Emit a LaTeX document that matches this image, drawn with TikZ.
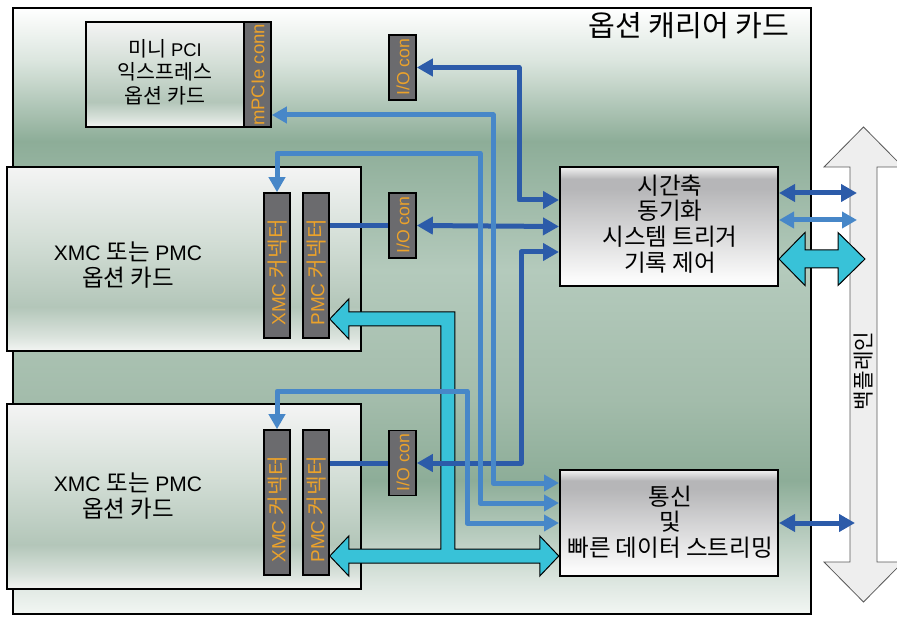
\documentclass[tikz,border=0pt]{standalone}
\usepackage{fontspec}
\setmainfont{Liberation Sans}
\newfontfamily\kr[Scale=1.12]{Noto Sans CJK KR}
\usetikzlibrary{arrows.meta,calc}
\definecolor{dkblue}{HTML}{2C5BA9}
\definecolor{mdblue}{HTML}{4787C8}
\definecolor{cyanbus}{HTML}{38C2D8}
\definecolor{conngrey}{HTML}{6B6B6E}
\definecolor{connorange}{HTML}{EBA22B}
\definecolor{bpfill}{HTML}{EEEEEE}
\definecolor{crbot}{HTML}{F2F6F3}
\definecolor{crlow}{HTML}{DFE8E2}
\definecolor{crgreen}{HTML}{8DAD98}
\definecolor{crmid}{HTML}{A3BCAB}
\definecolor{crlight}{HTML}{B4CABC}
\definecolor{crhigh}{HTML}{DCE6DF}
\definecolor{cardtop}{HTML}{F4F4F4}
\definecolor{cardmid}{HTML}{D3DED6}
\definecolor{cardlow}{HTML}{B3C6B9}
\definecolor{cardbot}{HTML}{F3F5F3}
\definecolor{glasstop}{HTML}{F2F2F2}
\definecolor{glassdark}{HTML}{B6B6B8}
\definecolor{glassbot}{HTML}{FBFBFB}
\pgfdeclareverticalshading{carriershade}{100bp}{%
 color(0bp)=(crbot);
 color(25bp)=(crbot);
 color(27.4bp)=(crlow);
 color(36bp)=(crgreen);
 color(42.7bp)=(crmid);
 color(53.4bp)=(crlight);
 color(64bp)=(crgreen);
 color(70.7bp)=(crhigh);
 color(75bp)=(white);
 color(100bp)=(white)}
\pgfdeclareverticalshading{cardshade}{100bp}{%
 color(0bp)=(cardbot);
 color(25bp)=(cardbot);
 color(29bp)=(cardbot!60!cardlow);
 color(37bp)=(cardlow);
 color(55bp)=(cardmid);
 color(75bp)=(cardtop);
 color(100bp)=(cardtop)}
\pgfdeclareverticalshading{glassshade}{100bp}{%
 color(0bp)=(glassbot);
 color(25bp)=(glassbot);
 color(28bp)=(glassbot);
 color(66bp)=(glassdark);
 color(70bp)=(glassdark);
 color(75bp)=(glasstop);
 color(100bp)=(glasstop)}
\tikzset{
 cardbox/.style={draw=black, line width=2pt, shading=cardshade, inner sep=0},
 glassbox/.style={draw=black, line width=2pt, shading=glassshade, inner sep=0},
 connbar/.style={draw=black, line width=1.6pt, fill=conngrey, inner sep=0},
 conntext/.style={text=connorange, font=\fontsize{19}{19}\selectfont, rotate=90, inner sep=0},
 cardtext/.style={align=center, inner sep=0, font=\fontsize{21}{26}\selectfont},
 dkline/.style={draw=dkblue, line width=5pt, line join=round},
 dkarrow/.style={dkline, {Triangle[length=16pt,width=17pt]}-{Triangle[length=16pt,width=17pt]}},
 mdline/.style={draw=mdblue, line width=5pt, line join=round},
 mdarrow/.style={mdline, {Triangle[length=15pt,width=16pt]}-{Triangle[length=15pt,width=16pt]}},
 cyanshape/.style={fill=cyanbus, draw=black, line width=1pt, line join=miter},
 bpshape/.style={fill=bpfill, draw=black!65, line width=0.8pt}
}
\begin{document}
\begin{tikzpicture}[x=1pt,y=-1pt]
\useasboundingbox (0,0) rectangle (897,617);
% carrier card
\path[shading=carriershade] (13,8) rectangle (811,614);
\draw[line width=2pt] (13,8) rectangle (811,614);
\node[font=\kr\fontsize{26}{26}\selectfont, inner sep=0] (title) at (689,26) {옵션 캐리어 카드};

% mini PCI express card
\node[cardbox, minimum width=158pt, minimum height=105pt] (minipci) at (165,74.5) {};
\node[cardtext, font=\fontsize{18.4}{23.5}\selectfont] (minipcitxt) at (165,72) {{\kr 미니} PCI\\{\kr 익스프레스}\\{\kr 옵션 카드}};
\node[connbar, minimum width=27pt, minimum height=105pt] (mpcie) at (257.5,74.5) {};
\node[conntext, font=\fontsize{18.5}{18.5}\selectfont] (mpcietxt) at (258,75) {mPCIe conn};

% I/O connectors
\node[connbar, minimum width=27pt, minimum height=65pt] (iotop) at (402.5,67.5) {};
\node[conntext, font=\fontsize{17.7}{17.7}\selectfont] at (403,67) {I/O con};
\node[connbar, minimum width=27pt, minimum height=65pt] (io2) at (402.5,225.5) {};
\node[conntext, font=\fontsize{17.7}{17.7}\selectfont] at (403,225) {I/O con};
\node[connbar, minimum width=27pt, minimum height=65pt] (io3) at (402.5,463) {};
\node[conntext, font=\fontsize{17.7}{17.7}\selectfont] at (403,462.5) {I/O con};

% XMC / PMC card 1
\node[cardbox, minimum width=354pt, minimum height=184pt] (card1) at (184,259) {};
\node[cardtext] (card1txt) at (128,265) {XMC {\kr 또는} PMC\\{\kr 옵션 카드}};
\node[connbar, minimum width=26pt, minimum height=145pt] (xmcconn1) at (277,265.5) {};
\node[conntext] at (277.5,272.5) {XMC {\kr 커넥터}};
\node[connbar, minimum width=26pt, minimum height=145pt] (pmcconn1) at (316,265.5) {};
\node[conntext] at (316.5,272.5) {PMC {\kr 커넥터}};

% XMC / PMC card 2
\node[cardbox, minimum width=354pt, minimum height=185pt] (card2) at (184,496.5) {};
\node[cardtext] (card2txt) at (128,496) {XMC {\kr 또는} PMC\\{\kr 옵션 카드}};
\node[connbar, minimum width=26pt, minimum height=145pt] (xmcconn2) at (277,502.5) {};
\node[conntext] at (277.5,509.5) {XMC {\kr 커넥터}};
\node[connbar, minimum width=26pt, minimum height=145pt] (pmcconn2) at (316,502.5) {};
\node[conntext] at (316.5,509.5) {PMC {\kr 커넥터}};

% right function boxes
\node[glassbox, minimum width=218pt, minimum height=119pt] (timing) at (669,226.5) {};
\node[cardtext, font=\kr\fontsize{21}{25.7}\selectfont] (timingtxt) at (670,224) {시간축\\동기화\\시스템 트리거\\기록 제어};
\node[glassbox, minimum width=218pt, minimum height=106pt] (comm) at (669,523) {};
\node[cardtext, font=\kr\fontsize{21}{25.5}\selectfont] (commtxt) at (670,522) {통신\\및\\빠른 데이터 스트리밍};

% cyan data bus (PMC1, PMC2 <-> comm)
\coordinate (cyA) at ([yshift=-53.5pt]pmcconn1.east);
\draw[cyanshape] (cyA) -- ++(19,-20) -- ++(0,13) -- ++(106,0) -- ++(0,237)
  -- ++(85,0) -- ++(0,-13) -- ++(19,20) -- ++(-19,20) -- ++(0,-13)
  -- ++(-191,0) -- ++(0,13) -- ++(-19,-20) -- ++(19,-20) -- ++(0,13)
  -- ++(92,0) -- ++(0,-223) -- ++(-92,0) -- ++(0,13) -- cycle;

% dark blue links
\draw[dkarrow] (iotop.east) -| ([xshift=-40pt,yshift=26.5pt]timing.west) -- ([yshift=26.5pt]timing.west);
\draw[dkline] (pmcconn1.east |- io2.west) -- (io2.west);
\draw[dkarrow] (io2.east) -- (timing.west);
\draw[dkarrow] (io3.east) -| ([xshift=-38pt,yshift=-25.5pt]timing.west) -- ([yshift=-25.5pt]timing.west);
\draw[dkline] (pmcconn2.east |- io3.west) -- (io3.west);

% medium blue links
\draw[mdarrow] ([yshift=-40.5pt]mpcie.east) -| ([xshift=-66pt,yshift=40pt]comm.west) -- ([yshift=40pt]comm.west);
\draw[mdarrow] (xmcconn1.north) -- ++(0,-39) -| ([xshift=-79pt,yshift=20pt]comm.west) -- ([yshift=20pt]comm.west);
\draw[mdarrow] (xmcconn2.north) -- ++(0,-38) -| ([xshift=-92pt]comm.west) -- (comm.west);

% backplane
\draw[bpshape] (863.5,127) -- (903,167) -- (877,167) -- (877,562) -- (903,562)
  -- (863.5,602) -- (824,562) -- (850,562) -- (850,167) -- (824,167) -- cycle;
\node[font=\kr\fontsize{19}{19}\selectfont, rotate=90, inner sep=0] (bptxt) at (863.5,371) {백플레인};
\coordinate (bp1) at (857,193);
\coordinate (bp2) at (857,220);
\coordinate (bp4) at (855,523);

% links to backplane
\draw[dkarrow] ([yshift=33.5pt]timing.east) -- (bp1);
\draw[mdarrow] ([yshift=6.5pt]timing.east) -- (bp2);
\coordinate (cyR) at ([yshift=-32.5pt]timing.east);
\draw[cyanshape] (cyR) -- ++(26,-26.5) -- ++(0,17.5) -- ++(33,0) -- ++(0,-17.5)
  -- ++(27,26.5) -- ++(-27,26.5) -- ++(0,-17.5) -- ++(-33,0) -- ++(0,17.5) -- cycle;
\draw[dkarrow] (comm.east) -- (bp4);
\end{tikzpicture}
\end{document}
